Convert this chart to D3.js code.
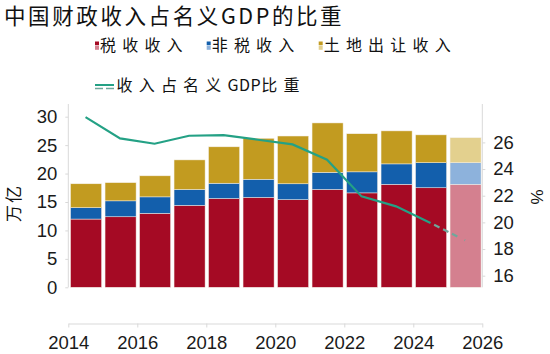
<!DOCTYPE html>
<html>
<head>
<meta charset="utf-8">
<script src="https://cdn.jsdelivr.net/npm/d3@7"></script>
<style>
  body { margin: 0; background: #fff; }
  svg { display: block; }
</style>
</head>
<body>
<div id="canvas"></div>
<script>
// DATA
const years = [2014, 2015, 2016, 2017, 2018, 2019, 2020, 2021, 2022, 2023, 2024, 2025];
const taxRevenue = [12.0, 12.4, 13.0, 14.4, 15.6, 15.8, 15.4, 17.2, 16.6, 18.1, 17.5, 18.1];
const nonTaxRevenue = [2.0, 2.8, 2.9, 2.8, 2.7, 3.2, 2.8, 3.0, 3.7, 3.6, 4.4, 3.8];
const landRevenue = [4.2, 3.2, 3.7, 5.2, 6.4, 7.2, 8.4, 8.7, 6.7, 5.8, 4.9, 4.4];
const gdpShare = [27.9, 26.3, 25.9, 26.5, 26.55, 26.2, 25.85, 24.7, 21.95, 21.2, 19.95, 18.65];
const forecastYear = 2025;

const seriesNames = ["税收收入", "非税收入", "土地出让收入"];
const lineName = "收入占名义GDP比重";
const leftTicks = [0, 5, 10, 15, 20, 25, 30];
const rightTicks = [16, 18, 20, 22, 24, 26];
const xTicks = [2014, 2016, 2018, 2020, 2022, 2024, 2026];

// COLOURS
const darkColors = ["#a50a24", "#135fac", "#c29b20"];
const lightColors = ["#d4808f", "#8db2dc", "#e3d08e"];
const lineColor = "#24a185";
const dashColor = "#6fa79b";

// DIMENSIONS
const width = 550, height = 354;
const plotTop = 104, plotBottom = 287.3;

const svg = d3.select("#canvas").append("svg")
  .attr("width", width).attr("height", height);

// SCALES
const x = d3.scaleLinear().domain([2014, 2026]).range([68.3, 482.3]);
const yLeft = d3.scaleLinear().domain([0, 32.23]).range([plotBottom, plotTop]);
const yRight = d3.scaleLinear().domain([15.13, 28.88]).range([plotBottom, plotTop]);

// text helper: CJK runs spaced wide, latin runs tight
function spacedText(sel, str, cjkSpacing, latinSpacing) {
  const runs = str.match(/[\u4e00-\u9fff]+|[^\u4e00-\u9fff]+/g);
  runs.forEach(r => {
    const cjk = /[\u4e00-\u9fff]/.test(r);
    sel.append("tspan").attr("letter-spacing", cjk ? cjkSpacing : latinSpacing).text(r);
  });
}

const cjkFont = "'Noto Sans CJK SC', sans-serif";
const tickFont = "'Liberation Sans', Arial, sans-serif";

// TITLE
svg.append("text")
  .attr("x", 4).attr("y", 24)
  .attr("letter-spacing", 2.6)
  .style("font-family", cjkFont)
  .style("font-size", "21.5px")
  .style("fill", "#111")
  .text("中国财政收入占名义GDP的比重");

// LEGEND
const legendX = [95, 206.7, 318.7];
seriesNames.forEach((name, i) => {
  const g = svg.append("g").attr("transform", `translate(${legendX[i]},0)`);
  g.append("rect").attr("x", 0).attr("y", 41.5).attr("width", 4).attr("height", 3.8).attr("fill", darkColors[i]);
  g.append("rect").attr("x", 0).attr("y", 46).attr("width", 4).attr("height", 3.8).attr("fill", lightColors[i]);
  g.append("text").attr("x", 5).attr("y", 51)
    .attr("letter-spacing", 6.2)
    .style("font-family", cjkFont).style("font-size", "16px").style("fill", "#111")
    .text(name);
});
svg.append("line").attr("x1", 95).attr("x2", 114).attr("y1", 85).attr("y2", 85)
  .attr("stroke", lineColor).attr("stroke-width", 2);
svg.append("line").attr("x1", 95).attr("x2", 114).attr("y1", 88.5).attr("y2", 88.5)
  .attr("stroke", dashColor).attr("stroke-width", 1.6).attr("stroke-dasharray", "8,3");
const lt = svg.append("text").attr("x", 116.5).attr("y", 90.5)
  .style("font-family", cjkFont).style("font-size", "16px").style("fill", "#111");
spacedText(lt, lineName, 6.2, 0.5);

// STACK
const rows = years.map((yr, i) => ({
  year: yr, tax: taxRevenue[i], nontax: nonTaxRevenue[i], land: landRevenue[i]
}));
const stacked = d3.stack().keys(["tax", "nontax", "land"])(rows);

const bars = svg.append("g");
stacked.forEach((layer, k) => {
  bars.selectAll(null)
    .data(layer)
    .join("rect")
    .attr("x", d => x(d.data.year + 0.065))
    .attr("width", d => x(d.data.year + 0.965) - x(d.data.year + 0.065))
    .attr("y", d => yLeft(d[1]))
    .attr("height", d => yLeft(d[0]) - yLeft(d[1]))
    .attr("fill", d => d.data.year >= forecastYear ? lightColors[k] : darkColors[k])
    .attr("stroke", "#f4efe8")
    .attr("stroke-width", 0.5);
});

// AXES
const axisColor = "#d9d9d9";

const leftAxis = svg.append("g").attr("transform", `translate(${x(2014)},0)`)
  .call(d3.axisLeft(yLeft).tickValues(leftTicks).tickSize(3).tickPadding(8).tickSizeOuter(0));
const rightAxis = svg.append("g").attr("transform", `translate(${x(2026)},0)`)
  .call(d3.axisRight(yRight).tickValues(rightTicks).tickSize(3).tickPadding(8).tickSizeOuter(0));
const bottomAxis = svg.append("g").attr("transform", "translate(0,323.5)")
  .call(d3.axisBottom(x).tickValues(xTicks).tickFormat(d3.format("d")).tickSize(4).tickPadding(8).tickSizeOuter(0));

[leftAxis, rightAxis, bottomAxis].forEach(a => {
  a.selectAll("path.domain").attr("stroke", axisColor);
  a.selectAll(".tick line").attr("stroke", axisColor);
  a.selectAll("text")
    .style("font-family", tickFont)
    .style("font-size", "18.5px")
    .style("fill", "#1a1a1a");
});
leftAxis.select("path.domain").attr("d", `M0,${plotTop}V${plotBottom}`);
rightAxis.select("path.domain").attr("d", `M0,${plotTop}V${plotBottom}`);

// AXIS TITLES
svg.append("text")
  .attr("transform", "translate(20,203) rotate(-90)")
  .attr("text-anchor", "middle")
  .attr("letter-spacing", 2)
  .style("font-family", cjkFont).style("font-size", "17px").style("fill", "#111")
  .text("万亿");
svg.append("text")
  .attr("transform", "translate(543,197) rotate(-90)")
  .attr("text-anchor", "middle")
  .style("font-family", tickFont).style("font-size", "17px").style("fill", "#111")
  .text("%");

// LINE
const pts = years.map((yr, i) => ({ year: yr, v: gdpShare[i] }));
const line = d3.line().x(d => x(d.year + 0.5)).y(d => yRight(d.v));
const actual = pts.filter(d => d.year < forecastYear);
const forecast = pts.filter(d => d.year >= forecastYear - 1);

svg.append("path").datum(actual)
  .attr("d", line)
  .attr("fill", "none")
  .attr("stroke", lineColor)
  .attr("stroke-width", 2.2);
svg.append("path").datum(forecast)
  .attr("d", line)
  .attr("fill", "none")
  .attr("stroke", dashColor)
  .attr("stroke-width", 2.2)
  .attr("stroke-dasharray", "0,4,6,4,6,4,6,4");
</script>
</body>
</html>
